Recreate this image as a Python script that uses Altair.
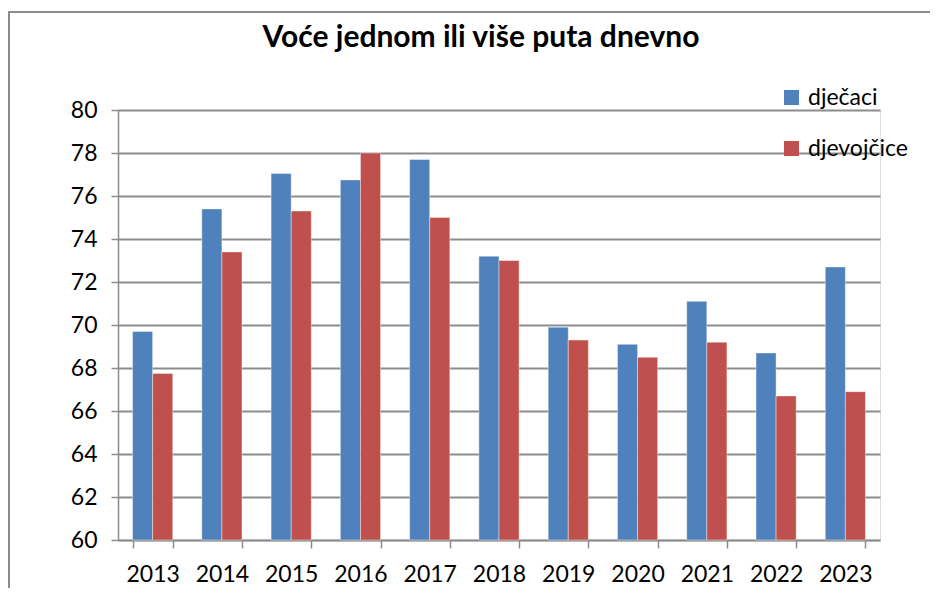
import altair as alt
import pandas as pd

title_text = "Voće jednom ili više puta dnevno"
years = ["2013", "2014", "2015", "2016", "2017", "2018", "2019", "2020", "2021", "2022", "2023"]
djecaci = [69.7, 75.4, 77.05, 76.75, 77.7, 73.2, 69.9, 69.1, 71.1, 68.7, 72.7]
djevojcice = [67.75, 73.4, 75.3, 78.0, 75.0, 73.0, 69.3, 68.5, 69.2, 66.7, 66.9]
series = ["dječaci", "djevojčice"]
colors = ["#4F81BD", "#C0504D"]
y_ticks = list(range(60, 81, 2))

rows = []
for i, y in enumerate(years):
    rows.append({"godina": y, "spol": series[0], "vrijednost": djecaci[i]})
    rows.append({"godina": y, "spol": series[1], "vrijednost": djevojcice[i]})
df = pd.DataFrame(rows)

FONT = "Lato"
W, H = 762, 430

bars = alt.Chart(df).mark_bar(stroke="white", strokeOpacity=0.5, strokeWidth=0.8).encode(
    x=alt.X("godina:N", sort=years, title=None,
            scale=alt.Scale(paddingInner=0.42, paddingOuter=0.21),
            axis=alt.Axis(labelAngle=0, tickBand="extent", labelFontSize=23, labelFont=FONT,
                          labelColor="black", labelPadding=15, tickSize=8, tickColor="#8c8c8c",
                          domainColor="#8c8c8c", domainWidth=1.5, tickWidth=1.5, grid=False)),
    xOffset=alt.XOffset("spol:N", sort=series, scale=alt.Scale(paddingInner=0, paddingOuter=0)),
    y=alt.Y("vrijednost:Q", title=None,
            scale=alt.Scale(domain=[60, 80], zero=False, nice=False),
            axis=alt.Axis(values=y_ticks, labelFontSize=23, labelFont=FONT, labelColor="black",
                          labelPadding=14, tickSize=7, tickColor="#8c8c8c", tickWidth=1.5,
                          domainColor="#8c8c8c", domainWidth=1.5,
                          grid=True, gridColor="#8c8c8c", gridWidth=1.8)),
    y2=alt.datum(60),
    color=alt.Color("spol:N", sort=series, title=None,
                    scale=alt.Scale(domain=series, range=colors),
                    legend=alt.Legend(orient="none", legendX=662, legendY=-24,
                                      symbolType="square", symbolSize=225, symbolStrokeWidth=0,
                                      labelFontSize=23, labelFont=FONT, labelColor="black",
                                      rowPadding=27, padding=0, labelOffset=5)),
)

deco = alt.Chart(pd.DataFrame({"t": [title_text]}))

frame = deco.mark_rect(fill=None, stroke="#8c8c8c", strokeWidth=2).encode(
    x=alt.value(-109), x2=alt.value(W + 100),
    y=alt.value(-98), y2=alt.value(H + 100),
)

title = deco.mark_text(font=FONT, fontSize=30, fontWeight="bold", color="black",
                       align="center", baseline="middle").encode(
    text="t:N", x=alt.value(W / 2 - 18), y=alt.value(-72),
)

chart = alt.layer(frame, bars, title).properties(
    width=W, height=H,
    autosize=alt.AutoSizeParams(type="none"),
    padding={"left": 110, "top": 102, "right": 50, "bottom": 48},
).configure_view(stroke=None).configure(background="white")

chart.save("out.html", embed_options={"renderer": "svg", "actions": False})
